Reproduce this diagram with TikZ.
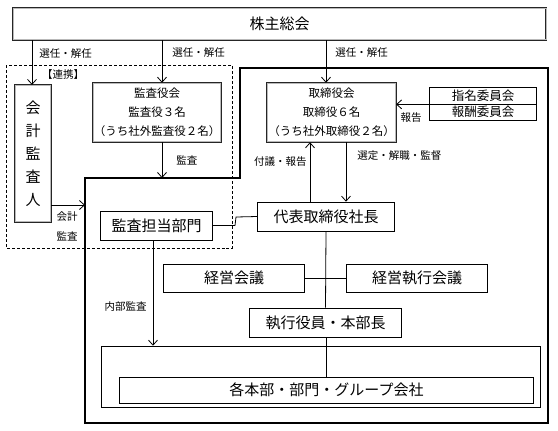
\documentclass[tikz,border=0pt]{standalone}
\usepackage{fontspec}
\setmainfont{Noto Sans CJK JP}
\usetikzlibrary{positioning, arrows.meta}

\begin{document}
\begin{tikzpicture}[
    x=1bp, y=-1bp,
    % plain and double-ruled boxes
    box/.style={rectangle, draw, line width=0.8pt, inner sep=0pt, align=center, font=\fontsize{15bp}{18bp}\selectfont},
    dbox/.style={rectangle, draw=black!85, double=gray!55, double distance=0.9pt, line width=0.7pt, inner sep=0pt, align=center, font=\fontsize{11.5bp}{19bp}\selectfont},
    lbl/.style={font=\fontsize{10.5bp}{12bp}\selectfont, inner sep=1pt},
    arrow/.style={-{Straight Barb[length=5pt, width=9pt]}, line width=0.8pt},
    link/.style={line width=0.8pt}
]
    \useasboundingbox (0,0) rectangle (558,430);

    % 1. Shareholders and audit side
    \node[dbox, minimum width=535, minimum height=32, font=\fontsize{15bp}{18bp}\selectfont] (kabunushi) at (279.5,24) {株主総会};
    \draw[dashed, dash pattern=on 3pt off 2pt, line width=0.7pt] (6,65) rectangle (232,248);
    \node[lbl, anchor=west] (renkei) at (41,75) {【連携】};

    \node[dbox, minimum width=36, minimum height=137, font=\fontsize{15bp}{23bp}\selectfont] (kaikei) at (33,153.5) {会\\計\\監\\査\\人};
    \node[dbox, minimum width=128, minimum height=59] (kansayakukai) at (157,112.5) {監査役会\\監査役３名\\（うち社外監査役２名）};
    \node[dbox, minimum width=129, minimum height=59] (torikai) at (331.5,112.5) {取締役会\\取締役６名\\（うち社外取締役２名）};

    % 2. Committees
    \node[box, minimum width=108, minimum height=17, font=\fontsize{12.5bp}{14bp}\selectfont] (shimei) at (483,95.5) {指名委員会};
    \node[box, minimum width=108, minimum height=16, font=\fontsize{12.5bp}{14bp}\selectfont] (hoshu) at (483,112) {報酬委員会};

    % 3. Company frame (thick outline)
    \draw[line width=2.4pt] (85,178) -- (240,178) -- (240,68) -- (548,68) -- (548,423) -- (85,423) -- cycle;

    \node[box, minimum width=138, minimum height=29] (daihyo) at (326,216.5) {代表取締役社長};
    \node[box, minimum width=113, minimum height=29] (kansatanto) at (156.5,225.5) {監査担当部門};
    \node[box, minimum width=142, minimum height=28] (keieikaigi) at (234,278) {経営会議};
    \node[box, minimum width=142, minimum height=28] (shikkokaigi) at (417,278) {経営執行会議};
    \node[box, minimum width=153, minimum height=29] (shikkoyakuin) at (325.5,322.5) {執行役員・本部長};
    \node[rectangle, draw, line width=0.8pt, minimum width=440, minimum height=62] (bumon) at (321,377) {};
    \node[box, minimum width=415, minimum height=26] (kakuhonbu) at (326.5,390) {各本部・部門・グループ会社};

    % 4. Connectors
    \coordinate (c1) at (32,40);
    \coordinate (c2) at (162,40);
    \coordinate (c3) at (326,40);
    \draw[arrow] (c1) -- (c1 |- kaikei.north) node[lbl, pos=0.3, right=6pt] (sennin1) {選任・解任};
    \draw[arrow] (c2) -- (c2 |- kansayakukai.north) node[lbl, pos=0.3, right=9pt] (sennin2) {選任・解任};
    \draw[arrow] (c3) -- (c3 |- torikai.north) node[lbl, pos=0.3, right=8pt] (sennin3) {選任・解任};

    \coordinate (kansa top) at (162,178);
    \draw[arrow] (kansayakukai.south -| kansa top) -- (kansa top) node[lbl, midway, right=13pt] (kansa) {監査};

    \coordinate (kaikei end) at (85,205);
    \draw[arrow] (kaikei.east |- kaikei end) -- (kaikei end);
    \node[lbl, align=center, font=\fontsize{10.5bp}{20bp}\selectfont] (kaikeikansa) at (67,226) {会計\\監査};

    \draw[arrow] (shimei.south west) -- (torikai.east |- shimei.south west);
    \node[lbl] (hokoku) at (411,118) {報告};

    \coordinate (up) at (310,0);
    \coordinate (down) at (346,0);
    \draw[arrow] (daihyo.north -| up) -- (torikai.south -| up) node[lbl, pos=0.67, left=2pt] (fugi) {付議・報告};
    \draw[arrow] (torikai.south -| down) -- (daihyo.north -| down) node[lbl, pos=0.22, right=10pt] (sentei) {選定・解職・監督};

    \draw[link] (kansatanto.east) -- (235,225.5) -- (236,217) -- (daihyo.west);

    \coordinate (naibu) at (153,0);
    \draw[arrow] (kansatanto.south -| naibu) -- (bumon.north -| naibu) node[lbl, pos=0.63, left=5pt] (naibukansa) {内部監査};

    \draw[link] (daihyo.south) -- (shikkoyakuin.north);
    \draw[link] (keieikaigi.east) -- (shikkokaigi.west);
    \draw[link] (shikkoyakuin.south -| daihyo) -- (kakuhonbu.north -| daihyo);

\end{tikzpicture}
\end{document}
